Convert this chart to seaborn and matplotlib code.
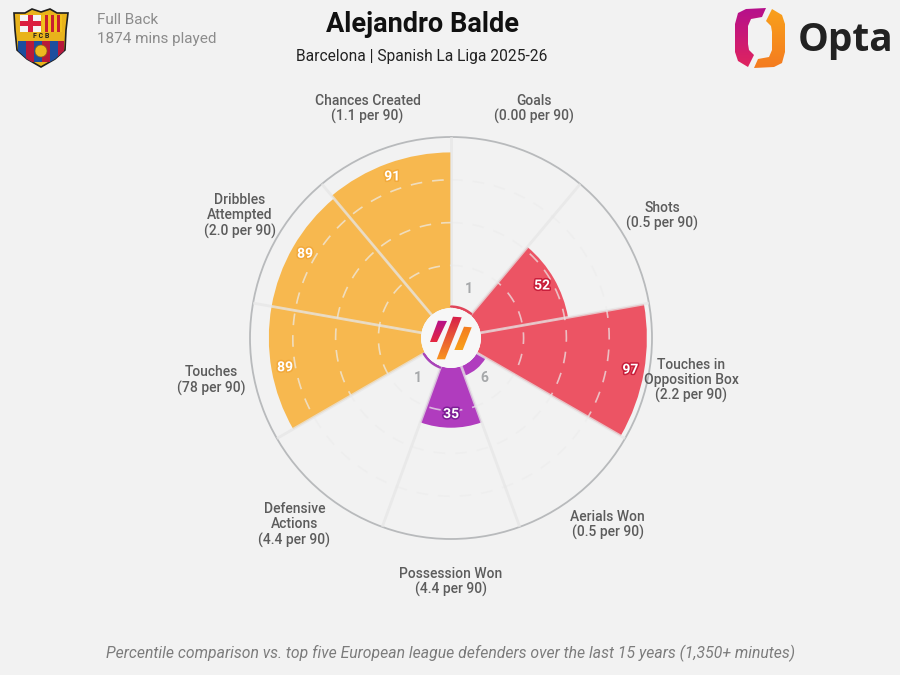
import numpy as np
import pandas as pd
import matplotlib
matplotlib.use("Agg")
import matplotlib.pyplot as plt
import seaborn as sns
from matplotlib.colors import LinearSegmentedColormap
from matplotlib.patches import Circle, PathPatch, Rectangle
from matplotlib.path import Path
import matplotlib.patheffects as pe

# Metrics run clockwise from twelve o'clock
metrics = ["Goals\n(0.00 per 90)", "Shots\n(0.5 per 90)",
           "Touches in\nOpposition Box\n(2.2 per 90)", "Aerials Won\n(0.5 per 90)",
           "Possession Won\n(4.4 per 90)", "Defensive\nActions\n(4.4 per 90)",
           "Touches\n(78 per 90)", "Dribbles\nAttempted\n(2.0 per 90)",
           "Chances Created\n(1.1 per 90)"]
percentiles = [1, 52, 97, 6, 35, 1, 89, 89, 91]
groups = ["attack", "attack", "attack", "defence", "defence", "defence",
          "possession", "possession", "possession"]
group_colours = {"attack": "#EC5464", "defence": "#B03CBE", "possession": "#F7B84F"}
label_edges = {"attack": "#C81E3A", "defence": "#7D1E96", "possession": "#F2A93B"}
rings = [25, 50, 75]

BG = "#F2F2F2"
sns.set_theme(style="white")
plt.rcParams["font.family"] = ["Roboto", "DejaVu Sans"]

fig = plt.figure(figsize=(9, 6.75), dpi=100, facecolor=BG)

# Radar area: centre (451, 338), outer radius 201 px
ax = fig.add_axes([250 / 900, 1 - 539 / 675, 402 / 900, 402 / 675], projection="polar")
ax.set_facecolor(BG)
ax.set_theta_zero_location("N")
ax.set_theta_direction(-1)

n = len(metrics)
step = 2 * np.pi / n
centres = step * (np.arange(n) + 0.5)
frame = pd.DataFrame({"theta": centres, "pct": percentiles, "group": groups})
sns.barplot(data=frame, x="theta", y="pct", hue="group", palette=group_colours,
            native_scale=True, dodge=False, width=1, saturation=1, errorbar=None,
            legend=False, linewidth=0, ax=ax)
for bar in ax.patches:
    bar.set_zorder(2)

ax.set_xlabel("")
ax.set_ylabel("")
ax.set_xticks([])
ax.set_yticks([])
ax.grid(False)
ax.set_ylim(0, 100)
ax.set_rorigin(-17.4)
ax.spines["polar"].set_color("#B8BABC")
ax.spines["polar"].set_linewidth(1.3)
# The inner spine is re-shown at draw time, so make it invisible by colour
ax.spines["inner"].set_edgecolor("none")
ax.spines["inner"].set_linewidth(0)

fine = np.linspace(0, 2 * np.pi, 361)
for r in rings:
    ax.plot(fine, np.full_like(fine, r), color="#EDEDED", lw=1.2, alpha=0.7,
            dashes=(7, 6), zorder=3)
for edge in step * np.arange(n):
    ax.plot([edge, edge], [0, 100], color="#E6E6E6", lw=2, alpha=0.75, zorder=4)

# Percentile labels sit inside long bars and just beyond the short ones
for theta, pct, grp in zip(centres, percentiles, groups):
    if pct > 20:
        ax.text(theta, pct - 8, str(pct), color="white", fontsize=10, fontweight="bold",
                ha="center", va="center", zorder=6,
                path_effects=[pe.withStroke(linewidth=2.2, foreground=label_edges[grp])])
    else:
        ax.text(theta, 13, str(pct), color="#A6A8AA", fontsize=10, fontweight="bold",
                ha="center", va="center", zorder=6)

for theta, name in zip(centres, metrics):
    ax.text(theta, 125, name, color="#5C5C5C", fontsize=10, fontweight="medium",
            ha="center", va="center", linespacing=1.1, clip_on=False)

# Overlay in pixel coordinates for headings and logos
ov = fig.add_axes([0, 0, 1, 1], facecolor="none")
ov.set_xlim(0, 900)
ov.set_ylim(675, 0)
ov.axis("off")


def gradient_poly(path, c0, c1, box, angle="v"):
    """Fill a path with a two-colour linear gradient."""
    cmap = LinearSegmentedColormap.from_list("g", [c0, c1])
    g = np.linspace(0, 1, 64)
    img = g[:, None] if angle == "v" else g[None, :]
    im = ov.imshow(img, cmap=cmap, extent=(box[0], box[1], box[3], box[2]),
                   origin="upper", aspect="auto", zorder=8)
    patch = PathPatch(path, transform=ov.transData, fc="none", ec="none")
    ov.add_patch(patch)
    im.set_clip_path(patch)


def closed_path(points):
    verts = list(points) + [points[0]]
    codes = [Path.MOVETO] + [Path.LINETO] * (len(points) - 1) + [Path.CLOSEPOLY]
    return Path(verts, codes)


# Hub with the small bars ringing it
ov.add_patch(Circle((451, 338), 30, fc="#F7F7F7", ec="none", zorder=7))
for a0, a1, colour in [(0, 40, "#E0455A"), (200, 240, "#A845B8")]:
    t = np.radians(np.linspace(a0, a1, 30))
    ov.plot(451 + 31.5 * np.sin(t), 338 - 31.5 * np.cos(t), color=colour, lw=1.6, zorder=7)

gradient_poly(closed_path([(438, 320.7), (447, 321), (437, 342), (430, 342)]),
              "#B5108C", "#E5283F", (430, 447, 320, 342))
gradient_poly(closed_path([(453, 316.7), (461.7, 317.3), (445, 359.3), (436.7, 359.3)]),
              "#D81E4A", "#F9951E", (436, 462, 316, 360))
gradient_poly(closed_path([(464, 326.7), (471.7, 327.3), (462.7, 350), (454.3, 350)]),
              "#F47B20", "#F9A11B", (454, 472, 326, 350))

# Opta mark
left_pts = [(766, 8), (746, 9), (738, 13), (735, 24), (735, 52), (738, 61), (748, 67),
            (754, 55), (749, 50), (748, 44), (748, 26), (751, 19), (762, 17)]
right_pts = [(1520 - x, 76 - y) for x, y in left_pts]
gradient_poly(closed_path(left_pts), "#B5108C", "#E0245E", (734, 767, 7, 68))
gradient_poly(closed_path(right_pts), "#F9A11B", "#F47B20", (753, 786, 8, 69))
ov.text(846, 41, "Opta", color="#222222", fontsize=28, fontweight="bold",
        ha="center", va="center", family=["Open Sans", "DejaVu Sans"])

# Club crest
shield = Path([(14, 13), (25, 13), (32, 9), (41, 12), (50, 9), (57, 13), (68, 13),
               (66, 30), (65, 50), (55, 59), (41, 67), (27, 59), (17, 50), (15, 30), (14, 13)],
              closed=True)
ov.add_patch(PathPatch(shield, fc="#E9B31B", ec="#1F1F1F", lw=1.2, zorder=8))
clip = PathPatch(shield, transform=ov.transData, fc="none", ec="none")
ov.add_patch(clip)
crest_parts = [
    Rectangle((20, 15), 21, 17, fc="#F4F4F4", ec="none"),
    Rectangle((28, 15), 5, 17, fc="#DB1F3F", ec="none"),
    Rectangle((20, 20.5), 21, 5, fc="#DB1F3F", ec="none"),
    Rectangle((42, 15), 20, 17, fc="#F2C21C", ec="none"),
    Rectangle((45, 15), 3, 17, fc="#C8202F", ec="none"),
    Rectangle((51, 15), 3, 17, fc="#C8202F", ec="none"),
    Rectangle((57, 15), 3, 17, fc="#C8202F", ec="none"),
    Rectangle((18, 41), 46, 21, fc="#1C4E9E", ec="none"),
    Rectangle((26, 41), 8, 21, fc="#B7193A", ec="none"),
    Rectangle((42, 41), 8, 21, fc="#B7193A", ec="none"),
    Rectangle((58, 41), 6, 21, fc="#B7193A", ec="none"),
]
for part in crest_parts:
    part.set_zorder(9)
    ov.add_patch(part)
    part.set_clip_path(clip)
ov.add_patch(Circle((41, 51), 6, fc="#EDB91F", ec="#8A6A10", lw=0.5, zorder=10))
ov.text(41, 36.5, "F C B", color="#1F1F1F", fontsize=5, fontweight="bold",
        ha="center", va="center", zorder=10)

# Headings
ov.text(97, 19.5, "Full Back", color="#8C8C8C", fontsize=11, va="center", ha="left")
ov.text(97, 38.5, "1874 mins played", color="#8C8C8C", fontsize=11, va="center", ha="left")
ov.text(422, 25, "Alejandro Balde", color="#111111", fontsize=19.5, fontweight="bold",
        ha="center", va="center")
ov.text(422, 56.5, "Barcelona | Spanish La Liga 2025-26", color="#222222", fontsize=11.2,
        ha="center", va="center")
ov.text(451, 653, "Percentile comparison vs. top five European league defenders over the last 15 years (1,350+ minutes)",
        color="#7C7C7C", fontsize=11.3, style="italic", ha="center", va="center")

fig.savefig("out.png", dpi=100, facecolor=BG)
